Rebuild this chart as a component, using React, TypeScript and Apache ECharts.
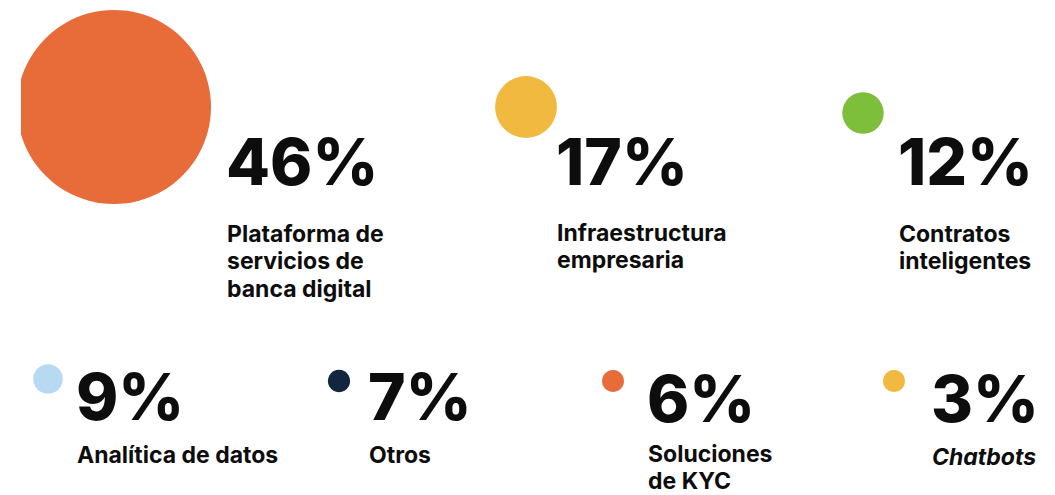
import React, { useEffect, useRef } from "react";
import * as echarts from "echarts";

// ---- data ----
const categories = [
  "Plataforma de\nservicios de\nbanca digital",
  "Infraestructura\nempresaria",
  "Contratos\ninteligentes",
  "Analítica de datos",
  "Otros",
  "Soluciones\nde KYC",
  "Chatbots",
];
const values = [46, 17, 12, 9, 7, 6, 3];
const colors = ["#E86B3A", "#F1B940", "#7DBE3A", "#B6DAF1", "#13263F", "#E86B3A", "#F1B940"];
const italic = [false, false, false, false, false, false, true];

// ---- layout (pixel slots) ----
const circleX = [114, 526, 863, 48, 339, 613, 894];
const circleY = [107, 107, 113, 379, 381, 381, 381];
const textX = [226, 556, 898, 76, 368, 647, 931];
const pctY = [161, 161, 161, 396.5, 396, 398.5, 398.5];
const labelY = [233.5, 232.5, 233.5, 455, 454.5, 453.5, 457];
const LINE_H = 27.5;

const FONT = "Inter, 'Noto Sans', sans-serif";

export default function App() {
  const ref = useRef<HTMLDivElement>(null);
  useEffect(() => {
    document.body.style.margin = "0";
    if (!ref.current) return;
    const chart = echarts.init(ref.current, undefined, { renderer: "svg" });
    const graphics: any[] = [];
    values.forEach((v, i) => {
      graphics.push({
        type: "text",
        x: textX[i],
        y: pctY[i],
        style: {
          text: `${v}%`,
          fill: "#0d0d0d",
          font: `800 64px ${FONT}`,
          verticalAlign: "middle",
        },
      });
      graphics.push({
        type: "text",
        x: textX[i] + 1,
        y: labelY[i] - LINE_H / 2,
        style: {
          text: categories[i],
          fill: "#0d0d0d",
          font: `${italic[i] ? "italic " : ""}700 23px ${FONT}`,
          lineHeight: LINE_H,
          verticalAlign: "top",
        },
      });
    });
    graphics.push({
      type: "rect",
      z: 100,
      shape: { x: 0, y: 0, width: 21, height: 230 },
      style: { fill: "#ffffff" },
    });
    chart.setOption({
      animation: false,
      backgroundColor: "#ffffff",
      grid: { left: 0, right: 0, top: 0, bottom: 0 },
      xAxis: { type: "value", min: 0, max: 1055, show: false },
      yAxis: { type: "value", min: 0, max: 495, inverse: true, show: false },
      series: [
        {
          type: "scatter",
          symbol: "circle",
          data: values.map((v, i) => ({
            name: categories[i],
            value: [circleX[i], circleY[i], v],
            itemStyle: { color: colors[i], opacity: 1 },
          })),
          symbolSize: (val: number[]) => Math.max(22, 2.375 * Math.pow(val[2], 1.15)),
          silent: true,
        },
      ],
      graphic: graphics,
    });
    return () => chart.dispose();
  }, []);
  return <div ref={ref} style={{ width: 1055, height: 495 }} />;
}
